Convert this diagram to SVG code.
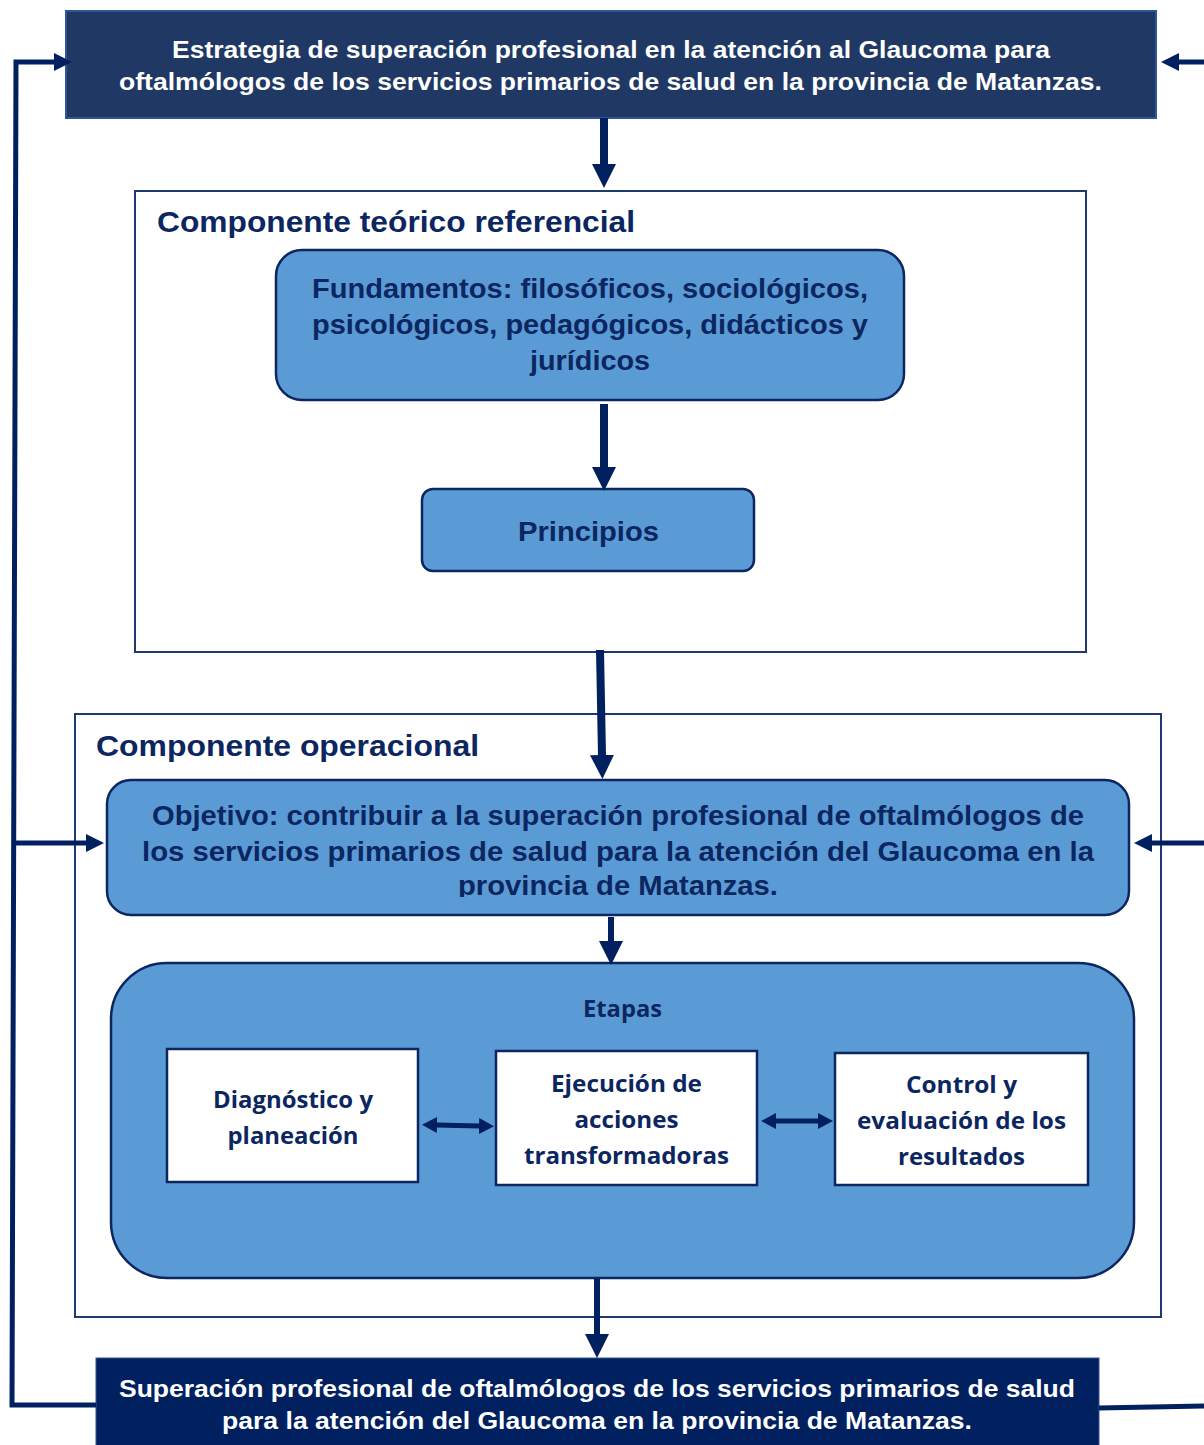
<svg xmlns="http://www.w3.org/2000/svg" width="1204" height="1445" viewBox="0 0 1204 1445">
<defs>
<style>
.bg{fill:#ffffff}
.frame{fill:#ffffff;stroke:#1F3A6E;stroke-width:2}
.light{fill:#5B9BD5;stroke:#0B2660;stroke-width:2.5}
.wbox{fill:#ffffff;stroke:#0B2660;stroke-width:2.5}
.dark1{fill:#203864;stroke:#2F5597;stroke-width:2}
.dark2{fill:#002060;stroke:#2F5597;stroke-width:1}
.wt{font-family:"Liberation Sans",Arial,sans-serif;font-weight:bold;fill:#ffffff;font-size:24px;text-anchor:middle}
.title{font-family:"Liberation Sans",Arial,sans-serif;font-weight:bold;fill:#0B2660;font-size:30px}
.nt{font-family:"Liberation Sans",Arial,sans-serif;font-weight:bold;fill:#0B2660;font-size:27px;text-anchor:middle}
.ct{font-family:"Open Sans",Lato,sans-serif;font-weight:bold;fill:#0B2660;font-size:23px;text-anchor:middle}
.thick{stroke:#002060;stroke-width:8;fill:none}
.med{stroke:#002060;stroke-width:6;fill:none}
.thin{stroke:#002060;stroke-width:5;fill:none}
</style>
<marker id="big" markerUnits="userSpaceOnUse" markerWidth="25" markerHeight="24" refX="1" refY="12" orient="auto"><path d="M0,0 L24,12 L0,24 z" fill="#002060"/></marker>
<marker id="mid" markerUnits="userSpaceOnUse" markerWidth="19" markerHeight="18" refX="1" refY="9" orient="auto"><path d="M0,0 L18,9 L0,18 z" fill="#002060"/></marker>
<marker id="dbl" markerUnits="userSpaceOnUse" markerWidth="16" markerHeight="16" refX="1" refY="8" orient="auto-start-reverse"><path d="M0,0 L15,8 L0,16 z" fill="#002060"/></marker>
<clipPath id="objclip"><rect x="107" y="870" width="1022" height="27"/></clipPath>
</defs>
<rect class="bg" x="0" y="0" width="1204" height="1445"/>

<g id="top">
<rect class="dark1" x="66" y="11" width="1090" height="107"/>
<text class="wt" x="611" y="58" textLength="878" lengthAdjust="spacingAndGlyphs">Estrategia de superación profesional en la atención al Glaucoma para</text>
<text class="wt" x="610.5" y="90" textLength="983" lengthAdjust="spacingAndGlyphs">oftalmólogos de los servicios primarios de salud en la provincia de Matanzas.</text>
</g>

<g id="teorico">
<rect class="frame" x="135" y="191" width="951" height="461"/>
<text class="title" x="157" y="232" textLength="478" lengthAdjust="spacingAndGlyphs">Componente teórico referencial</text>
</g>

<g id="fundamentos">
<rect class="light" x="276" y="250" width="628" height="150" rx="26"/>
<text class="nt" x="590" y="298" textLength="556" lengthAdjust="spacingAndGlyphs">Fundamentos: filosóficos, sociológicos,</text>
<text class="nt" x="590" y="334" textLength="556" lengthAdjust="spacingAndGlyphs">psicológicos, pedagógicos, didácticos y</text>
<text class="nt" x="590" y="370" textLength="120" lengthAdjust="spacingAndGlyphs">jurídicos</text>
</g>

<g id="principios">
<rect class="light" x="422" y="489" width="332" height="82" rx="11"/>
<text class="nt" x="588.5" y="541" textLength="141" lengthAdjust="spacingAndGlyphs">Principios</text>
</g>

<g id="operacional">
<rect class="frame" x="75" y="714" width="1086" height="603"/>
<text class="title" x="96" y="756" textLength="383" lengthAdjust="spacingAndGlyphs">Componente operacional</text>
</g>

<g id="objetivo">
<rect class="light" x="107" y="780" width="1022" height="135" rx="24"/>
<text class="nt" x="618" y="825" textLength="932" lengthAdjust="spacingAndGlyphs">Objetivo: contribuir a la superación profesional de oftalmólogos de</text>
<text class="nt" x="618" y="861" textLength="952" lengthAdjust="spacingAndGlyphs">los servicios primarios de salud para la atención del Glaucoma en la</text>
<text class="nt" x="618" y="895" textLength="320" lengthAdjust="spacingAndGlyphs" clip-path="url(#objclip)">provincia de Matanzas.</text>
</g>

<g id="etapas">
<rect class="light" x="111" y="963" width="1023" height="315" rx="56"/>
<text class="ct" x="622.5" y="1017" textLength="79" lengthAdjust="spacingAndGlyphs">Etapas</text>
</g>

<g id="diagnostico">
<rect class="wbox" x="167" y="1049" width="251" height="133"/>
<text class="ct" x="293" y="1108" textLength="160" lengthAdjust="spacingAndGlyphs">Diagnóstico y</text>
<text class="ct" x="293" y="1144" textLength="131" lengthAdjust="spacingAndGlyphs">planeación</text>
</g>

<g id="ejecucion">
<rect class="wbox" x="496" y="1051" width="261" height="134"/>
<text class="ct" x="626.5" y="1092" textLength="151" lengthAdjust="spacingAndGlyphs">Ejecución de</text>
<text class="ct" x="626.5" y="1128" textLength="104" lengthAdjust="spacingAndGlyphs">acciones</text>
<text class="ct" x="626.5" y="1164" textLength="205" lengthAdjust="spacingAndGlyphs">transformadoras</text>
</g>

<g id="control">
<rect class="wbox" x="835" y="1053" width="253" height="132"/>
<text class="ct" x="961.5" y="1093" textLength="111" lengthAdjust="spacingAndGlyphs">Control y</text>
<text class="ct" x="961.5" y="1129" textLength="209" lengthAdjust="spacingAndGlyphs">evaluación de los</text>
<text class="ct" x="961.5" y="1165" textLength="127" lengthAdjust="spacingAndGlyphs">resultados</text>
</g>

<g id="bottom">
<rect class="dark2" x="96" y="1358" width="1003" height="90"/>
<text class="wt" x="597" y="1397" textLength="956" lengthAdjust="spacingAndGlyphs">Superación profesional de oftalmólogos de los servicios primarios de salud</text>
<text class="wt" x="597" y="1429" textLength="750" lengthAdjust="spacingAndGlyphs">para la atención del Glaucoma en la provincia de Matanzas.</text>
</g>

<g id="connectors">
<path class="thick" d="M604,118 L604,165" marker-end="url(#big)"/>
<path class="thick" d="M604,404 L604,468" marker-end="url(#big)"/>
<path class="thick" d="M600,650 L602,756" marker-end="url(#big)"/>
<path class="med" d="M611,917 L611,942" marker-end="url(#big)"/>
<path class="med" d="M597,1279 L597,1335" marker-end="url(#big)"/>
<path class="thin" d="M96,1405 L12,1405 L16,62 L55,62" marker-end="url(#mid)"/>
<path class="thin" d="M16,843 L87,843" marker-end="url(#mid)"/>
<path class="thin" d="M1204,62 L1178,62" marker-end="url(#mid)"/>
<path class="thin" d="M1204,843 L1151,843" marker-end="url(#mid)"/>
<path class="thin" d="M1099,1408 L1204,1406"/>
<path class="thin" d="M436,1125 L480,1126" marker-start="url(#dbl)" marker-end="url(#dbl)"/>
<path class="thin" d="M775,1121 L819,1121" marker-start="url(#dbl)" marker-end="url(#dbl)"/>
</g>
</svg>
